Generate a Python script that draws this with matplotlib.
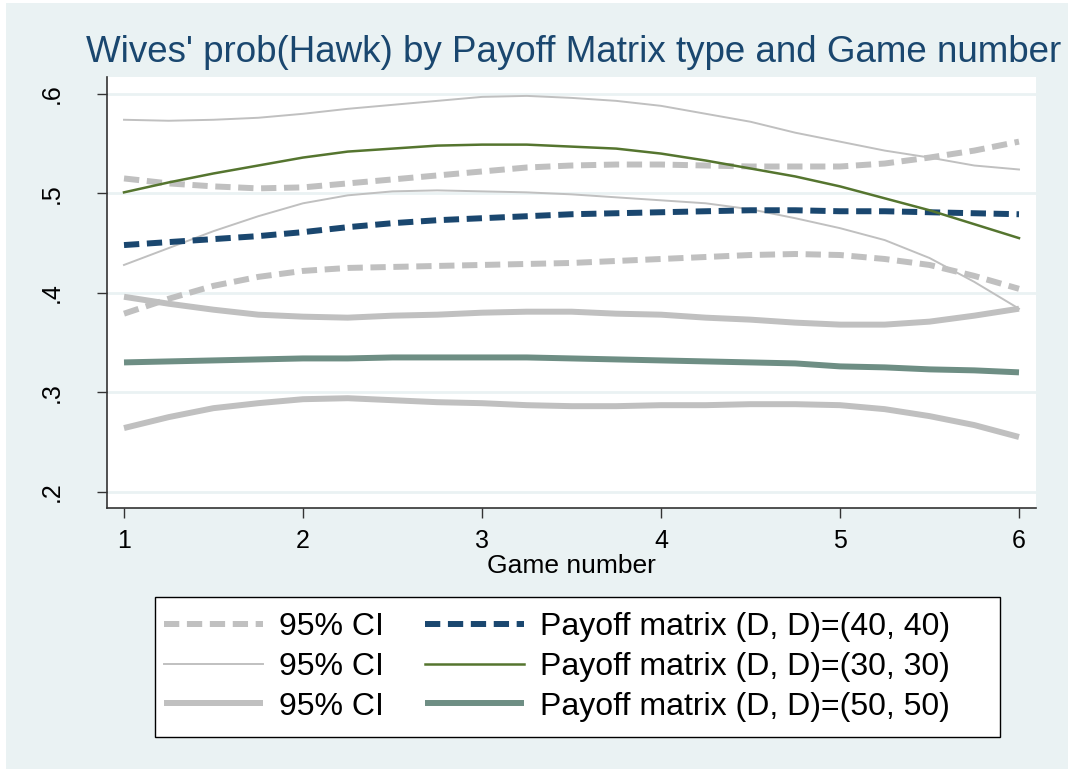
import matplotlib
matplotlib.use("Agg")
import matplotlib.pyplot as plt
from matplotlib.patches import Rectangle
from matplotlib.lines import Line2D

plt.rcParams["font.family"] = ["Liberation Sans", "DejaVu Sans"]
plt.rcParams["lines.scale_dashes"] = False

# game number grid
game = [1.0, 1.25, 1.5, 1.75, 2.0, 2.25, 2.5, 2.75, 3.0, 3.25, 3.5,
        3.75, 4.0, 4.25, 4.5, 4.75, 5.0, 5.25, 5.5, 5.75, 6.0]

# Payoff matrix (D, D)=(40, 40) and its 95% CI (dashed)
pm40 = [0.448, 0.451, 0.454, 0.457, 0.461, 0.466, 0.470, 0.473, 0.475, 0.477, 0.479,
        0.480, 0.481, 0.482, 0.483, 0.483, 0.482, 0.482, 0.481, 0.480, 0.479]
ci40_hi = [0.515, 0.510, 0.507, 0.505, 0.506, 0.510, 0.514, 0.518, 0.522, 0.526, 0.528,
           0.529, 0.529, 0.528, 0.527, 0.527, 0.527, 0.530, 0.536, 0.543, 0.552]
ci40_lo = [0.379, 0.394, 0.407, 0.416, 0.422, 0.425, 0.426, 0.427, 0.428, 0.429, 0.430,
           0.432, 0.434, 0.436, 0.438, 0.439, 0.438, 0.434, 0.428, 0.417, 0.404]

# Payoff matrix (D, D)=(30, 30) and its 95% CI (thin)
pm30 = [0.501, 0.511, 0.520, 0.528, 0.536, 0.542, 0.545, 0.548, 0.549, 0.549, 0.547,
        0.545, 0.540, 0.533, 0.525, 0.517, 0.507, 0.495, 0.483, 0.469, 0.455]
ci30_hi = [0.574, 0.573, 0.574, 0.576, 0.580, 0.585, 0.589, 0.593, 0.597, 0.598, 0.596,
           0.593, 0.588, 0.580, 0.572, 0.561, 0.552, 0.543, 0.536, 0.528, 0.524]
ci30_lo = [0.428, 0.445, 0.462, 0.477, 0.490, 0.498, 0.502, 0.503, 0.502, 0.501, 0.499,
           0.496, 0.493, 0.490, 0.484, 0.475, 0.465, 0.453, 0.435, 0.411, 0.384]

# Payoff matrix (D, D)=(50, 50) and its 95% CI (thick)
pm50 = [0.330, 0.331, 0.332, 0.333, 0.334, 0.334, 0.335, 0.335, 0.335, 0.335, 0.334,
        0.333, 0.332, 0.331, 0.330, 0.329, 0.326, 0.325, 0.323, 0.322, 0.320]
ci50_hi = [0.396, 0.389, 0.383, 0.378, 0.376, 0.375, 0.377, 0.378, 0.380, 0.381, 0.381,
           0.379, 0.378, 0.375, 0.373, 0.370, 0.368, 0.368, 0.371, 0.377, 0.384]
ci50_lo = [0.264, 0.275, 0.284, 0.289, 0.293, 0.294, 0.292, 0.290, 0.289, 0.287, 0.286,
           0.286, 0.287, 0.287, 0.288, 0.288, 0.287, 0.283, 0.276, 0.267, 0.255]

y_ticks = [0.2, 0.3, 0.4, 0.5, 0.6]
y_tick_labels = [".2", ".3", ".4", ".5", ".6"]
x_ticks = [1, 2, 3, 4, 5, 6]

BG = "#eaf2f3"
GRAY = "#c0c0c0"
BLUE = "#1a476f"
GREEN = "#55752f"
TEAL = "#6e8e84"

W, H = 1068, 769
fig = plt.figure(figsize=(W / 100, H / 100), dpi=100, facecolor="white")
fig.patches.append(Rectangle((6 / W, 0), 1, 1 - 3 / H, transform=fig.transFigure,
                             facecolor=BG, edgecolor="none", zorder=-10))

ax = fig.add_axes([107 / W, 1 - 508 / H, (1036 - 107) / W, (508 - 77) / H])
ax.set_facecolor("white")

dash = (0, (11, 5.5))
thick = 4.3
thin = 1.4
ax.plot(game, ci40_hi, color=GRAY, lw=thick, ls=dash, dash_capstyle="butt")
ax.plot(game, ci40_lo, color=GRAY, lw=thick, ls=dash, dash_capstyle="butt")
ax.plot(game, ci30_hi, color=GRAY, lw=thin)
ax.plot(game, ci30_lo, color=GRAY, lw=thin)
ax.plot(game, ci50_hi, color=GRAY, lw=thick, solid_capstyle="butt")
ax.plot(game, ci50_lo, color=GRAY, lw=thick, solid_capstyle="butt")
ax.plot(game, pm40, color=BLUE, lw=thick, ls=dash, dash_capstyle="butt")
ax.plot(game, pm30, color=GREEN, lw=1.8)
ax.plot(game, pm50, color=TEAL, lw=thick, solid_capstyle="butt")

ax.set_xlim(0.905, 6.095)
ax.set_ylim(0.1836, 0.617)
ax.set_yticks(y_ticks)
ax.set_yticklabels(y_tick_labels, rotation=90, va="center")
ax.set_xticks(x_ticks)
ax.grid(axis="y", color=BG, lw=2)
ax.set_axisbelow(True)
for side in ["top", "right"]:
    ax.spines[side].set_visible(False)
for side in ["left", "bottom"]:
    ax.spines[side].set_color("#333333")
    ax.spines[side].set_linewidth(1.2)
ax.tick_params(axis="both", direction="out", length=7, width=1, color="#333333",
               labelsize=18)
ax.tick_params(axis="y", pad=24)
ax.tick_params(axis="x", pad=8)
ax.set_xlabel("Game number", fontsize=19, labelpad=1)

fig.text(573.5 / W, 1 - 52 / H, "Wives' prob(Hawk) by Payoff Matrix type and Game number",
         ha="center", va="center", fontsize=26.5, color=BLUE)

# legend box drawn separately (Stata leaves extra room on the right)
fig.patches.append(Rectangle((155 / W, 1 - 737 / H), (1000 - 155) / W, (737 - 597) / H,
                             transform=fig.transFigure, facecolor="white",
                             edgecolor="black", lw=1.0, zorder=1))

handles = [
    Line2D([], [], color=GRAY, lw=thick, ls=dash, dash_capstyle="butt"),
    Line2D([], [], color=GRAY, lw=thin),
    Line2D([], [], color=GRAY, lw=thick, solid_capstyle="butt"),
    Line2D([], [], color=BLUE, lw=thick, ls=dash, dash_capstyle="butt"),
    Line2D([], [], color=GREEN, lw=1.8),
    Line2D([], [], color=TEAL, lw=thick, solid_capstyle="butt"),
]
labels = ["95% CI", "95% CI", "95% CI",
          "Payoff matrix (D, D)=(40, 40)", "Payoff matrix (D, D)=(30, 30)",
          "Payoff matrix (D, D)=(50, 50)"]
leg = fig.legend(handles, labels, ncol=2, loc="center",
                 bbox_to_anchor=(557 / W, 1 - 667 / H), fontsize=23,
                 frameon=False, handlelength=3.1, handletextpad=0.5,
                 columnspacing=1.3, labelspacing=0.3, borderpad=0.0)
leg.set_zorder(2)

fig.savefig("out.png", dpi=100, facecolor=fig.get_facecolor())
